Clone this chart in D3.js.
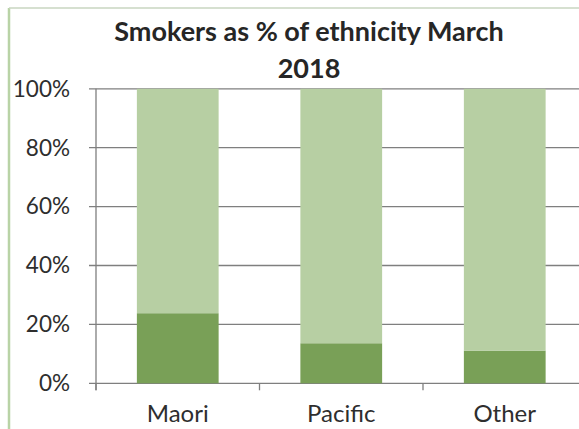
<!DOCTYPE html>
<html><head><meta charset="utf-8">
<script src="https://cdn.jsdelivr.net/npm/d3@7"></script>
<style>body{margin:0;background:#fff}svg{display:block}</style>
</head><body>
<svg id="c" width="579" height="429"></svg>
<script>
const categories = ["Maori", "Pacific", "Other"];
const smokers = [23.8, 13.6, 11.1];
const nonSmokers = [76.2, 86.4, 88.9];
const yTicks = [0, 20, 40, 60, 80, 100];
const titleLines = ["Smokers as % of ethnicity March", "2018"];

const svg = d3.select("#c");
const font = "Lato, 'Open Sans', sans-serif";
// frame
svg.append("line").attr("x1",9).attr("x2",9).attr("y1",8).attr("y2",429).attr("stroke","#b9d3a6").attr("stroke-width",2.5);
svg.append("line").attr("x1",9).attr("x2",579).attr("y1",8).attr("y2",8).attr("stroke","#c8d6c0").attr("stroke-width",1.5);

const x = d3.scaleBand().domain(categories).range([96, 586.5]).paddingInner(0.5).paddingOuter(0.25);
const y = d3.scaleLinear().domain([0,100]).range([383.3, 88.8]);

// gridlines
svg.append("g").selectAll("line").data(yTicks).join("line")
  .attr("x1", 89).attr("x2", 579).attr("y1", d=>y(d)).attr("y2", d=>y(d))
  .attr("stroke","#7f7f7f").attr("stroke-width",1.3);
// y axis line
svg.append("line").attr("x1",96).attr("x2",96).attr("y1",y(100)).attr("y2",y(0)+7).attr("stroke","#7f7f7f").attr("stroke-width",1.3);
// category ticks
const stepW = x.step();
svg.append("g").selectAll("line").data(categories).join("line")
  .attr("x1",(d,i)=>96+i*stepW).attr("x2",(d,i)=>96+i*stepW).attr("y1",y(0)).attr("y2",y(0)+7)
  .attr("stroke","#7f7f7f").attr("stroke-width",1.3);

// bars
const stackData = categories.map((c,i)=>({cat:c, s:smokers[i], n:nonSmokers[i]}));
const series = d3.stack().keys(["s","n"])(stackData);
const colors = {s:"#79a057", n:"#b7cfa3"};
svg.append("g").selectAll("g").data(series).join("g").attr("fill", d=>colors[d.key])
  .selectAll("rect").data(d=>d).join("rect")
  .attr("x", d=>x(d.data.cat)).attr("width", x.bandwidth())
  .attr("y", d=>y(d[1])).attr("height", d=>y(d[0])-y(d[1]));

// y labels
svg.append("g").selectAll("text").data(yTicks).join("text")
  .attr("x", 70).attr("y", d=>y(d)).attr("dy","0.35em").attr("text-anchor","end")
  .attr("font-family", font).attr("font-size", 22.5).attr("fill","#2e2e2e")
  .text(d=>d+"%");
// x labels
svg.append("g").selectAll("text").data(categories).join("text")
  .attr("x", d=>x(d)+x.bandwidth()/2).attr("y", 422).attr("text-anchor","middle")
  .attr("font-family", font).attr("font-size", 24).attr("fill","#2e2e2e")
  .text(d=>d);
// title
svg.append("g").selectAll("text").data(titleLines).join("text")
  .attr("x", 309).attr("y", (d,i)=>41+i*37).attr("text-anchor","middle")
  .attr("font-family", font).attr("font-weight","bold").attr("font-size", 27).attr("fill","#262626")
  .text(d=>d);
</script>
</body></html>
